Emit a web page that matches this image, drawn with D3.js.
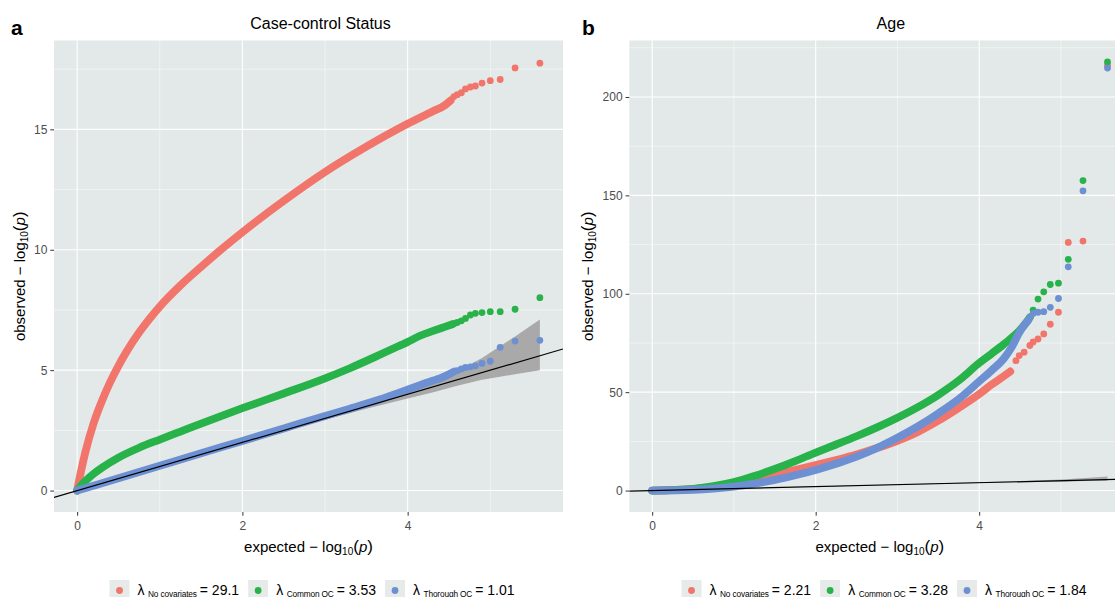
<!DOCTYPE html>
<html><head><meta charset="utf-8">
<script src="https://cdn.jsdelivr.net/npm/d3@7"></script>
<style>body{margin:0;background:#fff;} text{font-family:"Liberation Sans",Arial,sans-serif;}</style>
</head><body>
<svg id="c" width="1115" height="597"></svg>
<script>
// ---------- data ----------
const seriesNames = ["No covariates", "Common QC", "Thorough QC"];
const colors = ["#F1756B", "#28B24A", "#6D90D3"];

const aTitle = "Case-control Status";
const aLambda = ["29.1", "3.53", "1.01"];
const aXTicks = [0, 2, 4], aXMinor = [1, 3, 5];
const aYTicks = [0, 5, 10, 15], aYMinor = [2.5, 7.5, 12.5, 17.5];

// dense (band) part of each series, panel a
const aRedBandE = [0, 0.05, 0.1, 0.2, 0.3, 0.4, 0.5, 0.6, 0.75, 1.0, 1.25, 1.5, 1.75, 2.0, 2.5, 3.0, 3.5, 4.0, 4.3, 4.45, 4.52];
const aRedBandO = [0, 0.85, 1.6, 2.8, 3.72, 4.5, 5.18, 5.78, 6.56, 7.64, 8.52, 9.29, 10.03, 10.73, 12.03, 13.23, 14.28, 15.23, 15.74, 16.0, 16.2];
const aGreenBandE = [0, 0.05, 0.1, 0.2, 0.3, 0.5, 0.75, 1.0, 1.25, 1.5, 2.0, 2.5, 3.0, 3.3, 3.6, 3.8, 4.0, 4.15, 4.3, 4.45, 4.55];
const aGreenBandO = [0, 0.22, 0.4, 0.7, 0.95, 1.37, 1.78, 2.12, 2.45, 2.78, 3.42, 4.03, 4.66, 5.08, 5.54, 5.86, 6.17, 6.43, 6.62, 6.8, 6.92];
const aBlueBandE = [0, 0.25, 0.5, 1.0, 1.5, 2.0, 2.5, 3.0, 3.3, 3.66, 3.9, 4.15, 4.3, 4.39, 4.5, 4.56];
const aBlueBandO = [0, 0.25, 0.51, 1.03, 1.55, 2.06, 2.58, 3.1, 3.4, 3.78, 4.07, 4.38, 4.56, 4.66, 4.83, 4.94];
// sparse tail points, panel a
const aRedTailE = [5.60, 5.30, 5.12, 5.00, 4.90, 4.82, 4.76, 4.70, 4.65, 4.60, 4.56];
const aRedTailO = [17.75, 17.55, 17.07, 17.02, 16.92, 16.80, 16.76, 16.68, 16.52, 16.44, 16.36];
const aGreenTailE = [5.60, 5.30, 5.12, 5.00, 4.90, 4.82, 4.76, 4.70, 4.65, 4.60];
const aGreenTailO = [8.01, 7.53, 7.43, 7.43, 7.39, 7.36, 7.29, 7.15, 7.05, 6.98];
const aBlueTailE = [5.60, 5.30, 5.12, 5.00, 4.90, 4.82, 4.76, 4.70, 4.65, 4.60];
const aBlueTailO = [6.24, 6.21, 5.95, 5.37, 5.28, 5.18, 5.14, 5.11, 5.05, 4.98];
// confidence ribbon, panel a
const aRibE = [0, 2.0, 3.0, 3.5, 4.0, 4.3, 4.6, 4.9, 5.1, 5.3, 5.45, 5.6];
const aRibLo = [0, 1.98, 2.94, 3.4, 3.82, 4.07, 4.35, 4.6, 4.72, 4.83, 4.91, 5.0];
const aRibHi = [0, 2.02, 3.06, 3.62, 4.2, 4.5, 4.95, 5.5, 5.95, 6.4, 6.75, 7.1];

const bTitle = "Age";
const bLambda = ["2.21", "3.28", "1.84"];
const bXTicks = [0, 2, 4], bXMinor = [1, 3, 5];
const bYTicks = [0, 50, 100, 150, 200], bYMinor = [25, 75, 125, 175, 225];

const bRedBandE = [0, 0.5, 0.75, 1.0, 1.25, 1.5, 1.75, 2.0, 2.25, 2.5, 2.75, 3.0, 3.25, 3.5, 3.75, 4.0, 4.15, 4.28, 4.38];
const bRedBandO = [0, 0.7, 1.7, 3.5, 5.7, 8.0, 10.4, 12.9, 15.5, 18.3, 21.6, 25.3, 29.8, 35.5, 42.0, 49.0, 53.8, 57.5, 60.5];
const bGreenBandE = [0, 0.5, 0.75, 1.0, 1.25, 1.5, 1.75, 2.0, 2.25, 2.5, 2.75, 3.0, 3.25, 3.5, 3.75, 4.0, 4.15, 4.3, 4.45, 4.55, 4.62];
const bGreenBandO = [0, 0.9, 2.2, 4.3, 7.4, 11.0, 15.0, 19.3, 23.4, 27.6, 32.1, 37.0, 42.4, 48.6, 55.9, 64.8, 69.5, 74.3, 79.5, 84.0, 88.0];
const bBlueBandE = [0, 0.5, 0.75, 1.0, 1.25, 1.5, 1.75, 2.0, 2.25, 2.5, 2.75, 3.0, 3.25, 3.5, 3.75, 4.0, 4.15, 4.3, 4.4, 4.48, 4.55, 4.6];
const bBlueBandO = [0, 0.4, 1.0, 2.0, 3.5, 5.4, 7.8, 10.5, 13.6, 17.2, 21.6, 26.8, 32.6, 39.2, 46.5, 55.5, 61.0, 67.0, 73.0, 79.5, 84.0, 86.5];

const bRedTailE = [5.57, 5.27, 5.09, 4.97, 4.87, 4.79, 4.72, 4.66, 4.62, 4.55, 4.49, 4.45];
const bRedTailO = [216.0, 126.8, 126.1, 90.6, 84.5, 79.6, 77.0, 75.5, 73.7, 70.3, 68.6, 66.0];
const bGreenTailE = [5.57, 5.27, 5.09, 4.97, 4.87, 4.79, 4.72, 4.66];
const bGreenTailO = [217.8, 157.5, 117.5, 105.4, 104.7, 101.0, 97.3, 91.7];
const bBlueTailE = [5.57, 5.27, 5.09, 4.97, 4.87, 4.79, 4.72, 4.66, 4.62];
const bBlueTailO = [214.7, 152.3, 113.7, 97.6, 93.1, 90.9, 90.6, 90.0, 88.0];

const bRibE = [0, 3.0, 4.0, 4.5, 5.0, 5.3, 5.57];
const bRibLo = [0, 2.94, 3.82, 4.2, 4.52, 4.83, 4.98];
const bRibHi = [0, 3.06, 4.2, 4.85, 5.6, 6.4, 7.1];

// ---------- drawing ----------
const svg = d3.select("#c");
const panelBg = "#E3E9E8", keyBg = "#E6EBEA";

function zip(a, b) { return a.map((v, i) => [v, b[i]]); }

function drawPanel(cfg) {
  const x = d3.scaleLinear().domain(cfg.xDom).range(cfg.xRange);
  const y = d3.scaleLinear().domain(cfg.yDom).range(cfg.yRange);
  const [x0, x1] = cfg.xRange, [y1, y0] = cfg.yRange;
  const g = svg.append("g");
  const clipId = "clip" + cfg.id;
  svg.append("clipPath").attr("id", clipId).append("rect")
    .attr("x", x0).attr("y", y0).attr("width", x1 - x0).attr("height", y1 - y0);

  g.append("rect").attr("x", x0).attr("y", y0).attr("width", x1 - x0).attr("height", y1 - y0).attr("fill", panelBg);
  // grid
  g.selectAll(".xm").data(cfg.xMinor).join("line").attr("x1", d => x(d)).attr("x2", d => x(d))
    .attr("y1", y0).attr("y2", y1).attr("stroke", "#fff").attr("stroke-width", 0.55).attr("opacity", 0.9);
  g.selectAll(".ym").data(cfg.yMinor).join("line").attr("y1", d => y(d)).attr("y2", d => y(d))
    .attr("x1", x0).attr("x2", x1).attr("stroke", "#fff").attr("stroke-width", 0.55).attr("opacity", 0.9);
  g.selectAll(".xM").data(cfg.xTicks).join("line").attr("x1", d => x(d)).attr("x2", d => x(d))
    .attr("y1", y0).attr("y2", y1).attr("stroke", "#fff").attr("stroke-width", 1.1);
  g.selectAll(".yM").data(cfg.yTicks).join("line").attr("y1", d => y(d)).attr("y2", d => y(d))
    .attr("x1", x0).attr("x2", x1).attr("stroke", "#fff").attr("stroke-width", 1.1);

  const pg = g.append("g").attr("clip-path", `url(#${clipId})`);
  // ribbon
  const area = d3.area().x(d => x(d[0])).y0(d => y(d[1])).y1(d => y(d[2]));
  pg.append("path").datum(cfg.rib[0].map((e, i) => [e, cfg.rib[1][i], cfg.rib[2][i]]))
    .attr("d", area).attr("fill", "#A9A9A9");
  // series
  const line = d3.line().x(d => x(d[0])).y(d => y(d[1])).curve(d3.curveMonotoneX);
  cfg.series.forEach((s, i) => {
    pg.append("path").datum(zip(s.bandE, s.bandO)).attr("d", line)
      .attr("fill", "none").attr("stroke", colors[i]).attr("stroke-width", 7.8)
      .attr("stroke-linecap", "round").attr("stroke-linejoin", "round");
    pg.selectAll(null).data(zip(s.tailE, s.tailO)).join("circle")
      .attr("cx", d => x(d[0])).attr("cy", d => y(d[1])).attr("r", 3.4).attr("fill", colors[i]);
  });
  // abline y = x
  pg.append("line").attr("x1", x(cfg.xDom[0])).attr("y1", y(cfg.xDom[0]))
    .attr("x2", x(cfg.xDom[1])).attr("y2", y(cfg.xDom[1])).attr("stroke", "#000").attr("stroke-width", 1.2);

  // axes
  const xa = g.append("g").attr("transform", `translate(0,${y1})`)
    .call(d3.axisBottom(x).tickValues(cfg.xTicks).tickSize(3.7).tickPadding(3).tickFormat(d3.format("d")));
  const ya = g.append("g").attr("transform", `translate(${x0},0)`)
    .call(d3.axisLeft(y).tickValues(cfg.yTicks).tickSize(3.7).tickPadding(3).tickFormat(d3.format("d")));
  [xa, ya].forEach(a => {
    a.select(".domain").remove();
    a.selectAll(".tick line").attr("stroke", "#333").attr("stroke-width", 1);
    a.selectAll(".tick text").attr("fill", "#4D4D4D").attr("font-size", 12)
      .attr("font-family", "Liberation Sans, Arial, sans-serif");
  });
  xa.selectAll(".tick text").attr("dy", "0.95em");

  const cx = (x0 + Math.min(x1, 1131)) / 2;
  // title
  svg.append("text").attr("x", cx + cfg.titleShift).attr("y", 29).attr("text-anchor", "middle")
    .attr("font-size", 16).attr("fill", "#000").text(cfg.title);
  svg.append("text").attr("x", cfg.labelX).attr("y", 35).attr("font-size", 21).attr("font-weight", "bold")
    .attr("fill", "#000").text(cfg.label);
  // x axis title
  const xt = svg.append("text").attr("x", cx).attr("y", 552).attr("text-anchor", "middle")
    .attr("font-size", 15).attr("fill", "#000");
  axisTitle(xt, "expected");
  // y axis title
  const yt = svg.append("text").attr("transform", `translate(${cfg.yTitleX},${(y0 + y1) / 2}) rotate(-90)`)
    .attr("text-anchor", "middle").attr("font-size", 15).attr("fill", "#000");
  axisTitle(yt, "observed");

  legend(cfg.legendCx, cfg.lambda);
}

function axisTitle(t, word) {
  t.append("tspan").text(word + " \u2212 log");
  t.append("tspan").attr("font-size", 10).attr("dy", 3).text("10");
  t.append("tspan").attr("dy", -3).attr("font-size", 17).text("(");
  t.append("tspan").attr("font-style", "italic").text("p");
  t.append("tspan").attr("font-size", 17).text(")");
}

function legend(cx, vals) {
  const g = svg.append("g");
  const items = vals.map((v, i) => {
    const it = g.append("g");
    it.append("rect").attr("x", 0).attr("y", 580).attr("width", 20).attr("height", 20).attr("fill", keyBg);
    it.append("circle").attr("cx", 10).attr("cy", 590.5).attr("r", 3.4).attr("fill", colors[i]);
    const t = it.append("text").attr("x", 28).attr("y", 595).attr("font-size", 14).attr("fill", "#000");
    t.append("tspan").text("\u03BB");
    t.append("tspan").attr("font-size", 8.3).attr("dx", 3.5).attr("dy", 1.5).attr("letter-spacing", -0.15).text(seriesNames[i]);
    t.append("tspan").attr("dx", 3).attr("dy", -1.5).text("= " + v);
    return { it, w: 28 + t.node().getComputedTextLength() + 6.5 };
  });
  const gap = 9;
  const total = d3.sum(items, d => d.w) + gap * (items.length - 1);
  let xx = cx - total / 2;
  items.forEach(d => { d.it.attr("transform", `translate(${xx},0)`); xx += d.w + gap; });
}

drawPanel({
  id: "a", title: aTitle, label: "a", labelX: 11, yTitleX: 25, legendCx: 312, lambda: aLambda, titleShift: 12,
  xDom: [-0.28, 5.88], xRange: [54, 563], yDom: [-0.89, 18.69], yRange: [512, 40.5],
  xTicks: aXTicks, xMinor: aXMinor, yTicks: aYTicks, yMinor: aYMinor,
  rib: [aRibE, aRibLo, aRibHi],
  series: [
    { bandE: aRedBandE, bandO: aRedBandO, tailE: aRedTailE, tailO: aRedTailO },
    { bandE: aGreenBandE, bandO: aGreenBandO, tailE: aGreenTailE, tailO: aGreenTailO },
    { bandE: aBlueBandE, bandO: aBlueBandO, tailE: aBlueTailE, tailO: aBlueTailO }
  ]
});
drawPanel({
  id: "b", title: bTitle, label: "b", labelX: 582, yTitleX: 593, legendCx: 884, lambda: bLambda, titleShift: 11,
  xDom: [-0.28, 5.85], xRange: [629.3, 1130.4], yDom: [-10.9, 228.7], yRange: [512, 40.5],
  xTicks: bXTicks, xMinor: bXMinor, yTicks: bYTicks, yMinor: bYMinor,
  rib: [bRibE, bRibLo, bRibHi],
  series: [
    { bandE: bRedBandE, bandO: bRedBandO, tailE: bRedTailE, tailO: bRedTailO },
    { bandE: bGreenBandE, bandO: bGreenBandO, tailE: bGreenTailE, tailO: bGreenTailO },
    { bandE: bBlueBandE, bandO: bBlueBandO, tailE: bBlueTailE, tailO: bBlueTailO }
  ]
});
</script>
</body></html>
